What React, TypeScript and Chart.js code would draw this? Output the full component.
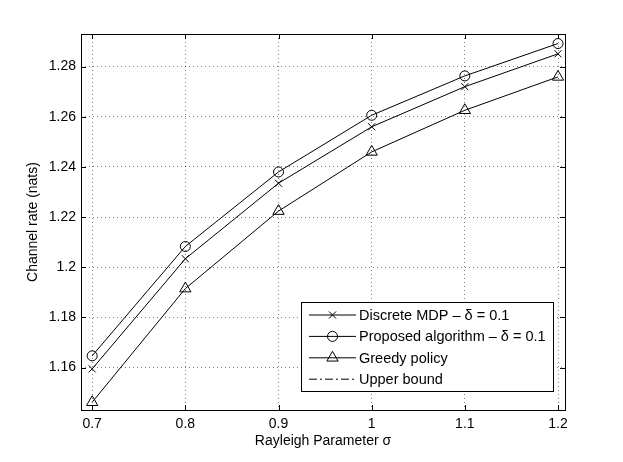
import { Chart, registerables } from 'chart.js';
import { drawPoint } from 'chart.js/helpers';
import { useEffect, useRef } from 'react';

Chart.register(...registerables);

const sigma = [0.7, 0.8, 0.9, 1.0, 1.1, 1.2];
const discreteMdp = [1.1595, 1.2034, 1.2335, 1.256, 1.272, 1.2851];
const proposed = [1.1647, 1.2083, 1.238, 1.2606, 1.2763, 1.2892];
const greedy = [1.1462, 1.1915, 1.2224, 1.246, 1.2626, 1.2759];
const upperBound: number[] = [];

const xTicks = [0.7, 0.8, 0.9, 1.0, 1.1, 1.2];
const yTicks = [1.16, 1.18, 1.2, 1.22, 1.24, 1.26, 1.28];

const FONT = 'Arial, "Liberation Sans", Helvetica, sans-serif';

const toPoints = (ys: number[]) => ys.map((y, i) => ({ x: sigma[i], y }));

// MATLAB-style box with inward tick marks on all four sides
const framePlugin = {
  id: 'frame',
  afterDatasetsDraw(chart: Chart) {
    const { ctx, chartArea: a, scales } = chart;
    const len = 5;
    ctx.save();
    ctx.strokeStyle = '#000';
    ctx.lineWidth = 1;
    ctx.beginPath();
    xTicks.forEach((v) => {
      const px = Math.round(scales.x.getPixelForValue(v)) + 0.5;
      ctx.moveTo(px, a.bottom);
      ctx.lineTo(px, a.bottom - len);
      ctx.moveTo(px, a.top);
      ctx.lineTo(px, a.top + len);
    });
    yTicks.forEach((v) => {
      const py = Math.round(scales.y.getPixelForValue(v)) + 0.5;
      ctx.moveTo(a.left, py);
      ctx.lineTo(a.left + len, py);
      ctx.moveTo(a.right, py);
      ctx.lineTo(a.right - len, py);
    });
    ctx.stroke();
    ctx.strokeRect(Math.round(a.left) + 0.5, Math.round(a.top) + 0.5, Math.round(a.right - a.left), Math.round(a.bottom - a.top));
    ctx.restore();
  },
};

const legendPlugin = {
  id: 'boxLegend',
  afterDraw(chart: Chart) {
    const { ctx } = chart;
    const bx = 301, by = 302, bw = 252, bh = 89;
    const rowH = 21.4;
    ctx.save();
    ctx.fillStyle = '#fff';
    ctx.fillRect(bx, by, bw, bh);
    ctx.strokeStyle = '#000';
    ctx.lineWidth = 1;
    ctx.strokeRect(bx + 0.5, by + 0.5, bw, bh);
    ctx.font = `14.5px ${FONT}`;
    ctx.textBaseline = 'middle';
    chart.data.datasets.forEach((ds: any, i: number) => {
      const y = by + 13 + i * rowH;
      ctx.strokeStyle = '#000';
      ctx.lineWidth = 1;
      ctx.setLineDash(ds.borderDash || []);
      ctx.beginPath();
      ctx.moveTo(309, y);
      ctx.lineTo(356, y);
      ctx.stroke();
      ctx.setLineDash([]);
      if (ds.pointRadius > 0) {
        ctx.fillStyle = 'rgba(0,0,0,0)';
        drawPoint(ctx, { pointStyle: ds.pointStyle, radius: ds.pointRadius, rotation: 0, borderWidth: 1 }, 332.5, y);
      }
      ctx.fillStyle = '#000';
      ctx.fillText(ds.label, 359, y + 1);
    });
    ctx.restore();
  },
};

const App = () => {
  const chartRef = useRef<HTMLCanvasElement>(null);
  const chartInstanceRef = useRef<Chart | null>(null);

  useEffect(() => {
    document.body.style.margin = '0';
    if (!chartRef.current) return;
    if (chartInstanceRef.current) chartInstanceRef.current.destroy();

    const lineStyle = {
      borderColor: '#000',
      borderWidth: 1,
      pointBorderColor: '#000',
      pointBackgroundColor: 'rgba(0,0,0,0)',
      pointBorderWidth: 1,
      tension: 0,
      fill: false,
    };

    chartInstanceRef.current = new Chart(chartRef.current, {
      type: 'line',
      data: {
        datasets: [
          { ...lineStyle, label: 'Discrete MDP – δ = 0.1', data: toPoints(discreteMdp), pointStyle: 'crossRot', pointRadius: 5 },
          { ...lineStyle, label: 'Proposed algorithm – δ = 0.1', data: toPoints(proposed), pointStyle: 'circle', pointRadius: 5 },
          { ...lineStyle, label: 'Greedy policy', data: toPoints(greedy), pointStyle: 'triangle', pointRadius: 6.5 },
          { ...lineStyle, label: 'Upper bound', data: toPoints(upperBound), pointRadius: 0, borderDash: [8, 3, 2, 3] },
        ],
      },
      options: {
        animation: false,
        responsive: true,
        maintainAspectRatio: false,
        layout: { padding: { top: 34, right: 58, left: 0, bottom: 0 } },
        plugins: { legend: { display: false }, tooltip: { enabled: false } },
        scales: {
          x: {
            type: 'linear',
            min: 0.688,
            max: 1.2075,
            afterBuildTicks: (s: any) => { s.ticks = xTicks.map((value) => ({ value })); },
            afterFit: (s: any) => { s.height = 52; },
            ticks: {
              color: '#000',
              font: { family: FONT, size: 14 },
              padding: 6,
              maxRotation: 0,
              autoSkip: false,
              callback: (v: any) => String(+Number(v).toFixed(2)),
            },
            grid: { color: 'rgba(0,0,0,0.5)', lineWidth: 1, drawTicks: false },
            border: { display: false, dash: [1, 3] },
            title: {
              display: true,
              text: 'Rayleigh Parameter σ',
              color: '#000',
              font: { family: FONT, size: 14 },
              padding: { top: 0, bottom: 12 },
            },
          },
          y: {
            type: 'linear',
            min: 1.1431,
            max: 1.293,
            afterBuildTicks: (s: any) => { s.ticks = yTicks.map((value) => ({ value })); },
            afterFit: (s: any) => { s.width = 81; },
            ticks: {
              color: '#000',
              font: { family: FONT, size: 14 },
              padding: 5,
              autoSkip: false,
              callback: (v: any) => String(+Number(v).toFixed(2)),
            },
            grid: { color: 'rgba(0,0,0,0.5)', lineWidth: 1, drawTicks: false },
            border: { display: false, dash: [1, 3] },
            title: {
              display: true,
              text: 'Channel rate (nats)',
              color: '#000',
              font: { family: FONT, size: 14 },
              padding: { top: 24.6, bottom: 0 },
            },
          },
        },
      },
      plugins: [framePlugin, legendPlugin],
    });

    return () => {
      if (chartInstanceRef.current) chartInstanceRef.current.destroy();
      chartInstanceRef.current = null;
    };
  }, []);

  return (
    <div style={{ position: 'relative', width: 623, height: 462 }}>
      <canvas ref={chartRef} />
    </div>
  );
};

export default App;
